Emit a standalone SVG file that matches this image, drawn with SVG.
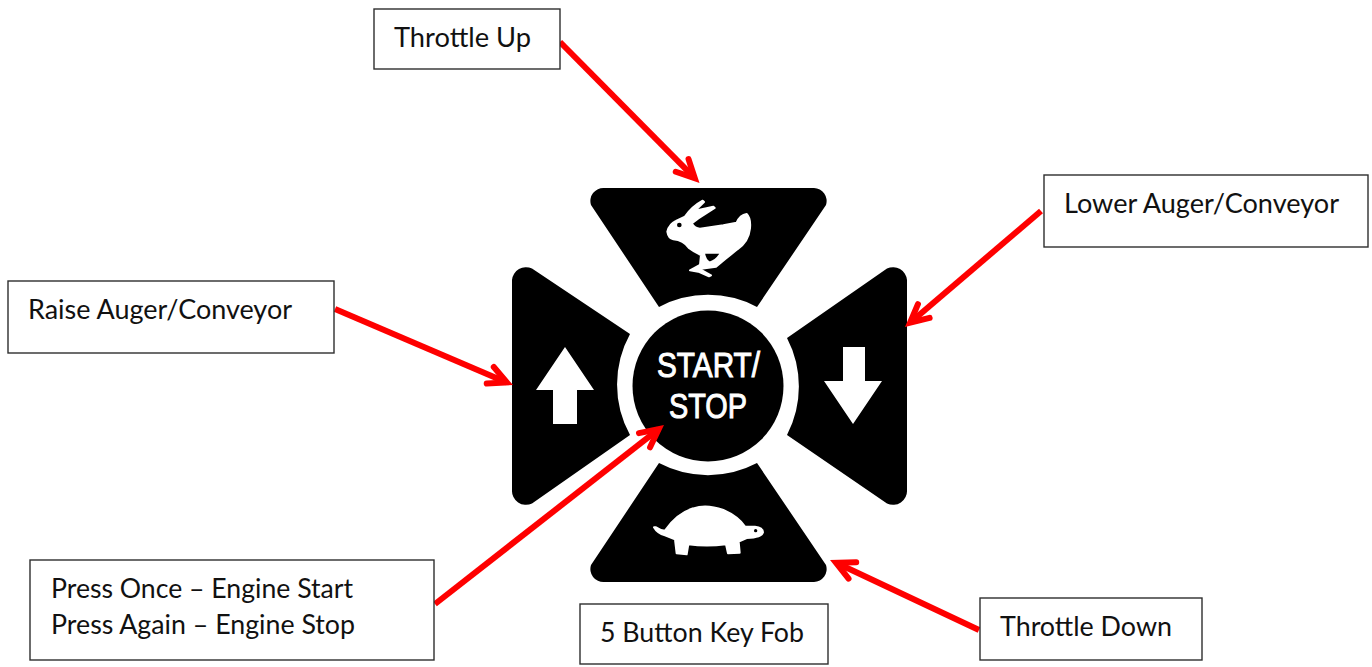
<svg xmlns="http://www.w3.org/2000/svg" width="1372" height="667" viewBox="0 0 1372 667">
<defs>
<marker id="head" markerUnits="userSpaceOnUse" markerWidth="50" markerHeight="40" viewBox="-30 -20 50 40" refX="0" refY="0" orient="auto" overflow="visible"><path d="M-18,-9 L0,0 L-18,9" fill="none" stroke="#fe0000" stroke-width="6" stroke-linecap="round" stroke-linejoin="miter" stroke-miterlimit="10"/></marker>
</defs>
<style>
.box{fill:#fff;stroke:#2e2e2e;stroke-width:1.4}
.lab{font-family:"Lato","Liberation Sans",sans-serif;font-size:27px;fill:#111}
.key{fill:#000}
.sym{fill:#fff}
.ani{stroke:#fff;stroke-width:6;stroke-linejoin:round}
.cap{font-family:"Liberation Sans",sans-serif;font-size:35px;fill:#fff;stroke:#fff;stroke-width:1}
.conn{fill:none;stroke:#fe0000;stroke-width:6;marker-end:url(#head)}
</style>
<rect width="1372" height="667" fill="#fff"/>
<g id="keyfob">
<path class="key" d="M604,188 H814 A13,13 0 0 1 826,205 L757,307 A105,105 0 0 0 659,307 L591,205 A13,13 0 0 1 604,188 Z"/>
<path class="key" d="M604,582 H814 A13,13 0 0 0 826,565 L757,463 A105,105 0 0 1 659,463 L591,565 A13,13 0 0 0 604,582 Z"/>
<path class="key" d="M512,280 A14,14 0 0 1 532,268.500 L630,334 A105,105 0 0 0 630,435 L532,503.500 A14,14 0 0 1 512,490 Z"/>
<path class="key" d="M907,280 A14,14 0 0 0 887,268.500 L787,338 A105,105 0 0 1 787,435 L887,503.500 A14,14 0 0 0 907,490 Z"/>
<circle class="key" cx="708" cy="386" r="75.500"/>
<path class="sym" d="M565,347 L594,390 H577 V424 H553 V390 H536 Z"/>
<path class="sym" d="M853,424 L824,381 H843 V347 H865 V381 H882 Z"/>
<text class="cap" x="657" y="377" textLength="103" lengthAdjust="spacingAndGlyphs">START/</text>
<text class="cap" x="669" y="418" textLength="78" lengthAdjust="spacingAndGlyphs">STOP</text>
<g transform="translate(640 190) scale(.3333)">
<path class="sym ani" fill-rule="evenodd" d="M82,125 Q88,102 108,93 L135,80 Q155,50 188,32 L192,36 L165,62 L220,50 L224,54 L175,85 L155,100 Q165,116 180,116 L250,106 L290,98 Q300,75 320,72 Q333,85 330,115 Q326,155 292,178 L255,208 L228,230 L178,237 L213,256 L207,259 L175,245 L150,241 L180,225 L183,195 Q160,185 148,175 Q130,150 100,148 Q85,145 82,125 Z M192,188 L243,188 Q230,212 208,218 Q194,208 192,188 Z"/>
<circle class="key" cx="118" cy="105" r="7"/>
</g>
<g transform="translate(640 490) scale(.3333)">
<path class="sym ani" d="M42,112 L48,112 Q62,122 75,122 Q110,70 160,55 Q200,42 250,60 Q295,80 315,110 L345,110 Q368,112 369,127 Q365,143 320,144 L296,155 L299,188 L264,190 L258,163 Q200,170 145,163 L140,193 L110,190 L105,148 L75,136 Q52,130 42,112 Z"/>
<circle class="key" cx="347" cy="122" r="5"/>
</g>
</g>
<g id="connectors">
<line class="conn" x1="560" y1="42" x2="694.800" y2="178.200"/>
<line class="conn" x1="1041" y1="211" x2="910.100" y2="322.700"/>
<line class="conn" x1="335" y1="309" x2="506.800" y2="382.400"/>
<line class="conn" x1="435" y1="604" x2="658.700" y2="429.100"/>
<line class="conn" x1="979" y1="630" x2="836.100" y2="562.800"/>
</g>
<g id="throttle-up"><rect class="box" x="374" y="9" width="186" height="60"/><text class="lab" x="394" y="47" textLength="137" lengthAdjust="spacingAndGlyphs">Throttle Up</text></g>
<g id="lower"><rect class="box" x="1044" y="175" width="324" height="72"/><text class="lab" x="1064" y="213" textLength="275" lengthAdjust="spacingAndGlyphs">Lower Auger/Conveyor</text></g>
<g id="raise"><rect class="box" x="8" y="281" width="326" height="72"/><text class="lab" x="28" y="319" textLength="264" lengthAdjust="spacingAndGlyphs">Raise Auger/Conveyor</text></g>
<g id="start-stop"><rect class="box" x="30" y="560" width="404" height="100"/><text class="lab" x="51" y="598" textLength="302" lengthAdjust="spacingAndGlyphs">Press Once – Engine Start</text><text class="lab" x="51" y="634" textLength="304" lengthAdjust="spacingAndGlyphs">Press Again – Engine Stop</text></g>
<g id="key-fob-label"><rect class="box" x="580" y="604" width="248" height="60"/><text class="lab" x="600" y="642" textLength="204" lengthAdjust="spacingAndGlyphs">5 Button Key Fob</text></g>
<g id="throttle-down"><rect class="box" x="980" y="598" width="222" height="62"/><text class="lab" x="1000" y="636" textLength="172" lengthAdjust="spacingAndGlyphs">Throttle Down</text></g>
</svg>
